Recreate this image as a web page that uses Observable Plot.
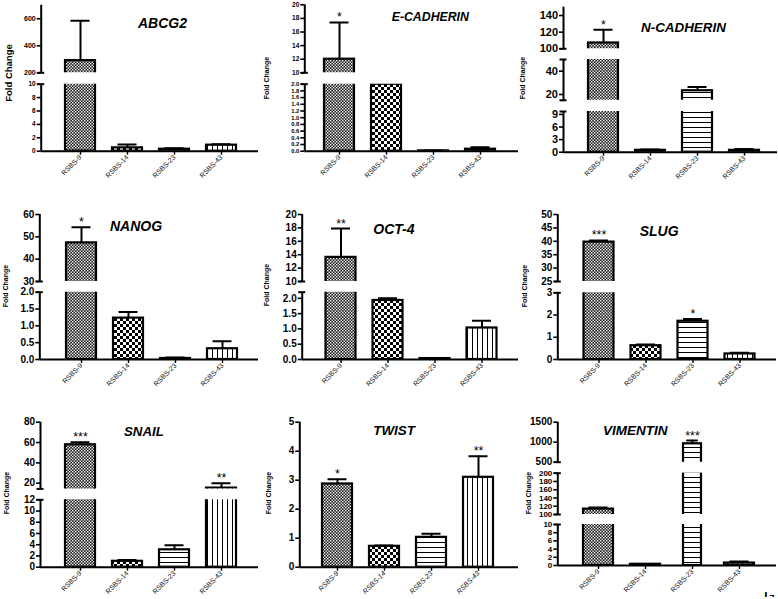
<!DOCTYPE html>
<html><head><meta charset="utf-8">
<script src="https://cdn.jsdelivr.net/npm/d3@7"></script>
<script src="https://cdn.jsdelivr.net/npm/@observablehq/plot@0.6"></script>
<style>
html,body{margin:0;padding:0;background:#fff;overflow:hidden;}
#page{position:relative;width:778px;height:599px;overflow:hidden;font-family:"Liberation Sans",Arial,sans-serif;}
#page svg.seg{position:absolute;left:0;top:0;}
#page svg.seg g[aria-label="y-axis tick label"] text{font-weight:bold;}
.title{position:absolute;font-weight:bold;font-style:italic;white-space:nowrap;line-height:1;color:#000;}
.ylab{position:absolute;font-weight:bold;white-space:nowrap;line-height:1;transform:translate(-50%,-50%) rotate(-90deg);color:#000;}
</style></head>
<body>
<div id="page">
<svg width="0" height="0" style="position:absolute;left:0;top:0">
<defs>
<pattern id="pat0" patternUnits="userSpaceOnUse" width="3" height="3">
<rect width="3" height="3" fill="#1a1a1a"/>
<rect x="0" y="0" width="1.4" height="1.4" fill="#fff"/>
<rect x="1.5" y="1.5" width="1.4" height="1.4" fill="#fff"/>
</pattern>
<pattern id="pat1" patternUnits="userSpaceOnUse" width="6" height="6">
<rect width="6" height="6" fill="#fff"/>
<rect x="0" y="0" width="3" height="3" fill="#000"/>
<rect x="3" y="3" width="3" height="3" fill="#000"/>
</pattern>
<pattern id="pat2" patternUnits="userSpaceOnUse" width="5" height="5">
<rect width="5" height="5" fill="#fff"/>
<rect x="0" y="2" width="5" height="1" fill="#000"/>
</pattern>
<pattern id="pat3" patternUnits="userSpaceOnUse" width="5" height="5">
<rect width="5" height="5" fill="#fff"/>
<rect x="2" y="0" width="1" height="5" fill="#000"/>
</pattern>
</defs>
</svg>
</div>
<script>
// ---------- DATA ----------
const categories = ["RSBS-9", "RSBS-14", "RSBS-23", "RSBS-43"];
const genes = ["ABCG2", "E-CADHERIN", "N-CADHERIN", "NANOG", "OCT-4", "SLUG", "SNAIL", "TWIST", "VIMENTIN"];
const yLabel = "Fold Change";

const abcg2Mean = [290, 0.5, 0.3, 0.9];
const abcg2Err = [585, 1.0, 0.45, 1.05];
const abcg2Stars = ["", "", "", ""];
const abcg2Breaks = [[0, 10], [200, 700]];
const abcg2Ticks = [[0, 2, 4, 6, 8, 10], [200, 400, 600]];

const ecadMean = [12, 2.0, 0.01, 0.06];
const ecadErr = [17.4, 2.0, 0.02, 0.12];
const ecadStars = ["*", "", "", ""];
const ecadBreaks = [[0, 2], [10, 20]];
const ecadTicks = [[0, 0.2, 0.4, 0.6, 0.8, 1.0, 1.2, 1.4, 1.6, 1.8, 2.0], [10, 12, 14, 16, 18, 20]];

const ncadMean = [107, 0.45, 23.2, 0.45];
const ncadErr = [123, 0.65, 26.4, 0.75];
const ncadStars = ["*", "", "", ""];
const ncadBreaks = [[0, 9.7], [15, 50], [100, 150]];
const ncadTicks = [[0, 3, 6, 9], [20, 40], [100, 120, 140]];

const nanogMean = [47.3, 1.23, 0.03, 0.32];
const nanogErr = [54.3, 1.41, 0.06, 0.54];
const nanogStars = ["*", "", "", ""];
const nanogBreaks = [[0, 2], [30, 60]];
const nanogTicks = [[0, 0.5, 1.0, 1.5, 2.0], [30, 40, 50, 60]];

const oct4Mean = [13.6, 1.93, 0.03, 1.03];
const oct4Err = [17.9, 2.0, 0.05, 1.27];
const oct4Stars = ["**", "", "", ""];
const oct4Breaks = [[0, 2.2], [10, 20]];
const oct4Ticks = [[0, 0.5, 1.0, 1.5, 2.0], [10, 12, 14, 16, 18, 20]];

const slugMean = [39.7, 0.62, 1.72, 0.25];
const slugErr = [40.3, 0.67, 1.82, 0.3];
const slugStars = ["***", "", "*", ""];
const slugBreaks = [[0, 3], [25, 50]];
const slugTicks = [[0, 1, 2, 3], [25, 30, 35, 40, 45, 50]];

const snailMean = [57.8, 1.05, 3.1, 15.2];
const snailErr = [60.2, 1.3, 3.9, 20];
const snailStars = ["***", "", "", "**"];
const snailBreaks = [[0, 12], [14.4, 80]];
const snailTicks = [[0, 2, 4, 6, 8, 10, 12], [20, 40, 60, 80]];

const twistMean = [2.87, 0.72, 1.03, 3.1];
const twistErr = [3.03, 0.75, 1.15, 3.83];
const twistStars = ["*", "", "", "**"];
const twistBreaks = [[0, 5]];
const twistTicks = [[0, 1, 2, 3, 4, 5]];

const vimMean = [113, 0.3, 960, 0.6];
const vimErr = [117, 0.35, 1040, 1.0];
const vimStars = ["", "", "***", ""];
const vimBreaks = [[0, 10], [100, 200], [500, 1500]];
const vimTicks = [[0, 2, 4, 6, 8, 10], [100, 120, 140, 160, 180, 200], [500, 1000, 1500]];

// ---------- LAYOUT ----------
const W = 778, H = 599, STEP = 47, CAPW = 19;
const fmtInt = d => String(d);
const fmt1 = d => d.toFixed(1);
const panels = [
  {mean: abcg2Mean, err: abcg2Err, stars: abcg2Stars, segs: abcg2Breaks, ticks: abcg2Ticks, fmt: [fmtInt, fmtInt],
   axisX: 40.7, c0: 80, right: 258, px: [[150.7, 83.7], [72.3, 4.8]], tf: [6.5, 7],
   title: {x: 138, base: 28, size: 14}, yl: {x: 8.5, y: 73.3, size: 9.5}},
  {mean: ecadMean, err: ecadErr, stars: ecadStars, segs: ecadBreaks, ticks: ecadTicks, fmt: [fmt1, fmtInt],
   axisX: 304.3, c0: 339, right: 518, px: [[150.7, 83.7], [72.3, 4.3]], tf: [5.8, 6.5],
   title: {x: 391.7, base: 21.5, size: 12.3}, yl: {x: 266, y: 78.3, size: 7}},
  {mean: ncadMean, err: ncadErr, stars: ncadStars, segs: ncadBreaks, ticks: ncadTicks, fmt: [fmtInt, fmtInt, fmtInt],
   axisX: 563, c0: 603, right: 777, px: [[151.7, 111], [99.8, 59], [48.3, 6.7]], tf: [11, 11, 11],
   title: {x: 641, base: 32.5, size: 13.4}, yl: {x: 522, y: 78.3, size: 7}},
  {mean: nanogMean, err: nanogErr, stars: nanogStars, segs: nanogBreaks, ticks: nanogTicks, fmt: [fmt1, fmtInt],
   axisX: 39.3, c0: 81, right: 258, px: [[359, 291.7], [281, 214]], tf: [10, 10],
   title: {x: 110, base: 231, size: 14}, yl: {x: 5, y: 286, size: 7}},
  {mean: oct4Mean, err: oct4Err, stars: oct4Stars, segs: oct4Breaks, ticks: oct4Ticks, fmt: [fmt1, fmtInt],
   axisX: 301.7, c0: 340.5, right: 518, px: [[359, 291.7], [281, 214]], tf: [10, 10],
   title: {x: 373.3, base: 234, size: 14}, yl: {x: 265.7, y: 285, size: 7}},
  {mean: slugMean, err: slugErr, stars: slugStars, segs: slugBreaks, ticks: slugTicks, fmt: [fmtInt, fmtInt],
   axisX: 557.3, c0: 598.5, right: 776, px: [[359, 292.3], [281, 214]], tf: [10, 10],
   title: {x: 639.7, base: 236, size: 14}, yl: {x: 523.7, y: 286, size: 7}},
  {mean: snailMean, err: snailErr, stars: snailStars, segs: snailBreaks, ticks: snailTicks, fmt: [fmtInt, fmtInt],
   axisX: 40, c0: 80, right: 258, px: [[566.7, 499.3], [488.4, 421.7]], tf: [10, 10],
   title: {x: 124, base: 436.5, size: 13.3}, yl: {x: 5.7, y: 493, size: 7}},
  {mean: twistMean, err: twistErr, stars: twistStars, segs: twistBreaks, ticks: twistTicks, fmt: [fmtInt],
   axisX: 299.3, c0: 337, right: 518, px: [[566.7, 421.7]], tf: [10], italicX: true,
   title: {x: 373.3, base: 435, size: 13.4}, yl: {x: 268.3, y: 493, size: 7}},
  {mean: vimMean, err: vimErr, stars: vimStars, segs: vimBreaks, ticks: vimTicks, fmt: [fmtInt, fmtInt, fmtInt],
   axisX: 557.3, c0: 598, right: 776, px: [[565, 524], [514, 472.7], [461.7, 421.7]], tf: [8, 8, 10],
   barW: [30, 30, 18, 30],
   title: {x: 603, base: 435, size: 13.5}, yl: {x: 528, y: 492.5, size: 7}}
];

const page = document.getElementById("page");
const FONT = "Liberation Sans, Arial, sans-serif";

panels.forEach((p, pi) => {
  const data = categories.map((c, i) => ({i, cat: c, mean: p.mean[i], err: p.err[i], star: p.stars[i]}));
  const widths = p.barW || [30, 30, 30, 30];
  const xLo = -(p.c0 - p.axisX) / STEP;
  const xHi = 3 + (p.right - (p.c0 + 3 * STEP)) / STEP;
  const capHalf = CAPW / 2 / STEP, brk = 3.5 / STEP;
  const nSeg = p.segs.length;
  p.segs.forEach(([lo, hi], si) => {
    const [pxB, pxT] = p.px[si];
    const marks = [];
    data.forEach(d => {
      const half = widths[d.i] / 2 / STEP;
      marks.push(Plot.rectY([d], {x1: d => d.i - half, x2: d => d.i + half, y1: 0, y2: "mean",
        fill: `url(#pat${d.i})`, stroke: "black", strokeWidth: 2.2, clip: true}));
    });
    const withErr = data.filter(d => d.err > d.mean);
    marks.push(Plot.ruleX(withErr, {x: "i", y1: "mean", y2: "err", stroke: "black", strokeWidth: 2, clip: true}));
    marks.push(Plot.ruleY(withErr, {y: "err", x1: d => d.i - Math.min(capHalf, widths[d.i] * 0.32 / STEP),
      x2: d => d.i + Math.min(capHalf, widths[d.i] * 0.32 / STEP), stroke: "black", strokeWidth: 2, clip: true}));
    marks.push(Plot.text(data.filter(d => d.star && d.err >= lo && d.err <= hi),
      {x: "i", y: "err", text: "star", dy: -5, fontSize: 12.5, fill: "black"}));
    marks.push(Plot.ruleX([xLo], {y1: lo, y2: hi, stroke: "black", strokeWidth: 2}));
    const caps = [];
    if (si > 0) caps.push(lo);
    if (si < nSeg - 1) caps.push(hi);
    if (caps.length) marks.push(Plot.ruleY(caps, {x1: xLo - brk, x2: xLo + brk, stroke: "black", strokeWidth: 2}));
    marks.push(Plot.axisY({ticks: p.ticks[si], tickFormat: p.fmt[si], tickSize: 4, tickPadding: 1.5,
      fontSize: p.tf[si], fontWeight: "bold", fill: "black", stroke: "black", strokeWidth: 1.6}));
    if (si === 0) {
      marks.push(Plot.ruleY([0], {stroke: "black", strokeWidth: 2}));
      marks.push(Plot.axisX({ticks: [0, 1, 2, 3], tickFormat: i => categories[i], tickRotate: -45,
        tickSize: 4, tickPadding: 1, fontSize: 7, fontStyle: p.italicX ? "italic" : "normal",
        fill: "#111", stroke: "black", strokeWidth: 1.4}));
    }
    const svg = Plot.plot({
      width: W, height: H,
      marginLeft: p.axisX, marginRight: W - p.right, marginTop: pxT, marginBottom: H - pxB,
      x: {domain: [xLo, xHi], axis: null},
      y: {domain: [lo, hi], axis: null},
      style: {background: "none", fontFamily: FONT, overflow: "visible", color: "black"},
      marks
    });
    svg.classList.add("seg");
    page.appendChild(svg);
  });
  const t = document.createElement("div");
  t.className = "title";
  t.textContent = genes[pi];
  t.style.fontSize = p.title.size + "px";
  t.style.left = p.title.x + "px";
  t.style.top = (p.title.base - 0.8465 * p.title.size) + "px";
  page.appendChild(t);
  const yl = document.createElement("div");
  yl.className = "ylab";
  yl.textContent = yLabel;
  yl.style.fontSize = p.yl.size + "px";
  yl.style.left = p.yl.x + "px";
  yl.style.top = p.yl.y + "px";
  page.appendChild(yl);
});
</script>
</body></html>
